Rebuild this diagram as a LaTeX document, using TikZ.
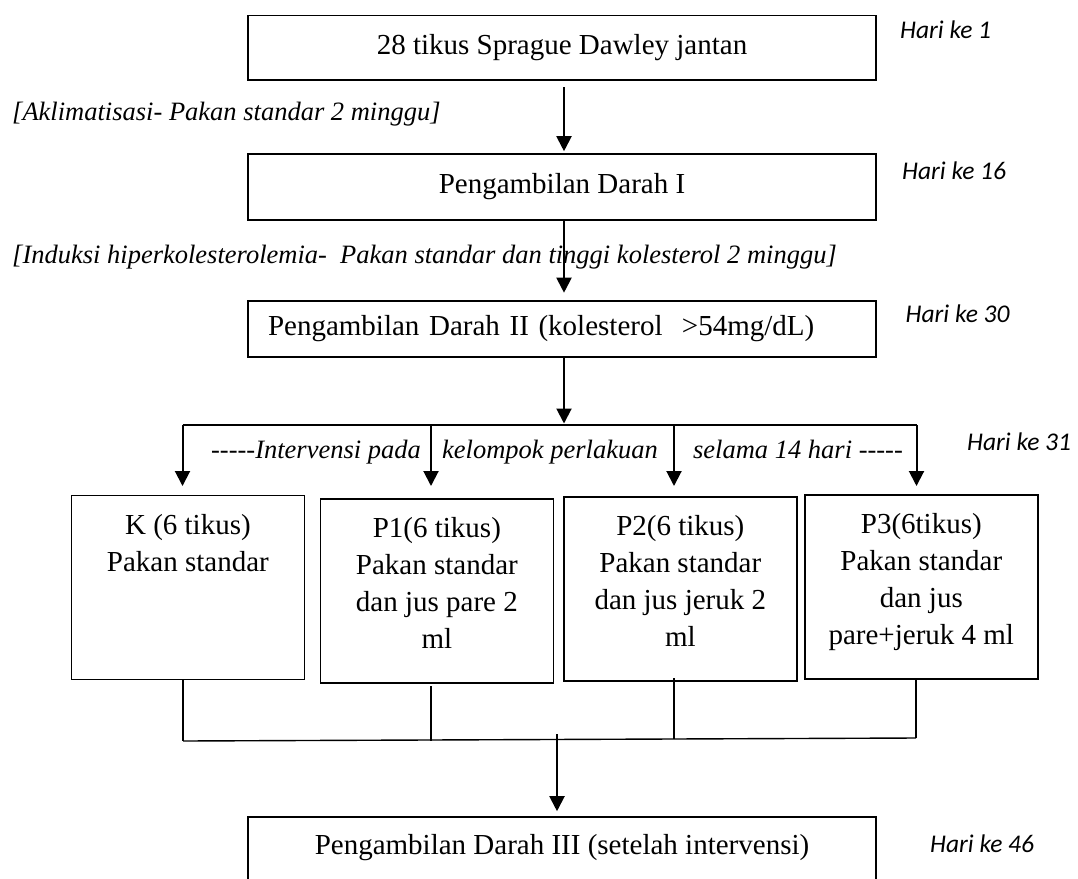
\documentclass[tikz,border=0pt]{standalone}
\usepackage{fontspec}
\setmainfont{Liberation Serif}
\newfontfamily\harifont{Carlito}
\usetikzlibrary{arrows.meta}

\begin{document}
\begin{tikzpicture}[
  stage/.style={draw,line width=1.6pt,minimum width=628pt,inner sep=0pt,font=\fontsize{29}{37}\selectfont},
  grp/.style={draw,line width=1.6pt,minimum width=233pt,minimum height=184pt,anchor=north west},
  grptext/.style={anchor=north,inner sep=0pt,align=center,font=\fontsize{29}{37}\selectfont},
  note/.style={anchor=base west,inner sep=0pt,font=\fontsize{26.5}{30}\selectfont\itshape},
  day/.style={anchor=base west,inner sep=0pt,font=\harifont\fontsize{25.5}{30}\selectfont\itshape},
  flow/.style={-{Triangle[length=15pt,width=15pt]},line width=2pt},
  link/.style={line width=1.4pt},
  x=1pt,y=-1pt
]
  \useasboundingbox (0,0) rectangle (1078,878);
  \clip (0,0) rectangle (1078,878);
  \node[stage,minimum height=64.5pt] (s1) at (562,47.75) {28 tikus Sprague Dawley jantan};
  \node[stage,minimum height=66pt] (s2) at (562,187) {Pengambilan Darah I};
  \node[stage,minimum height=56pt,text width=588pt,inner xsep=20pt,align=left] (s3) at (562,329) {Pengambilan Darah II (kolesterol\ \ >54mg/dL)};
  \node[stage,minimum height=76pt] (s4) at (562,855) {\raisebox{7pt}[\height][\depth]{Pengambilan Darah III (setelah intervensi)}};
  \node[note] (n1) at (12,120.5) {[Aklimatisasi- Pakan standar 2 minggu]};
  \node[note] (n2) at (12,263.4) {[Induksi hiperkolesterolemia-\ \ Pakan standar dan tinggi kolesterol 2 minggu]};
  \node[note,anchor=base] (i1) at (316,458) {-{}-{}-{}-{}-Intervensi pada};
  \node[note,anchor=base] (i2) at (550,458) {kelompok perlakuan};
  \node[note,anchor=base] (i3) at (798,458) {selama 14 hari -{}-{}-{}-{}-};
  \foreach \i/\xx/\yy/\d in {1/900/38.4/1,2/902/179/16,3/905.5/322.3/30,4/967/450/31,5/930/852.5/46}
    \node[day] (h\i) at (\xx,\yy) {Hari ke \d};
  \draw[flow,shorten <=6.5pt,shorten >=2pt] ([xshift=2pt]s1.south) -- ([xshift=2pt]s2.north);
  \draw[flow,shorten >=7.5pt] ([xshift=2pt]s2.south) -- ([xshift=2pt]s3.north);
  \coordinate (j1) at (564,425);
  \draw[flow,shorten >=1.5pt] ([xshift=2pt]s3.south) -- (j1);
  \foreach \i/\xl/\yt/\xa in {1/70.6/494.5/182.5,2/319.6/498/431,3/563/496/674,4/804/494/916.5} {
    \node[grp] (g\i) at (\xl,\yt) {};
    \coordinate (d\i) at (\xa,425);
    \coordinate (e\i) at (\xa,486);
  }
  \draw[line width=1.7pt] (d1) -- (d4);
  \foreach \i in {1,...,4}
    \draw[flow] (d\i) -- (e\i);
  \foreach \i/\t in {1/{K (6 tikus)\\Pakan standar},2/{P1(6 tikus)\\Pakan standar\\dan jus pare 2\\ml},3/{P2(6 tikus)\\Pakan standar\\dan jus jeruk 2\\ml},4/{P3(6tikus)\\Pakan standar\\dan jus\\pare+jeruk 4 ml}}
    \node[grptext] (l\i) at ([yshift=-19.5pt]g\i.north) {\t};
  \foreach \i/\x/\ya/\yb in {1/183/680/741,2/431/686/740.5,3/674/678/739,4/916/678/738} {
    \coordinate (u\i) at (\x,\ya);
    \coordinate (m\i) at (\x,\yb);
    \draw[link] (u\i) -- (m\i);
  }
  \draw[link] (m1) -- (m4);
  \coordinate (j2) at (557,734);
  \draw[flow,shorten >=5pt] (j2) -- (j2 |- s4.north);
\end{tikzpicture}
\end{document}
